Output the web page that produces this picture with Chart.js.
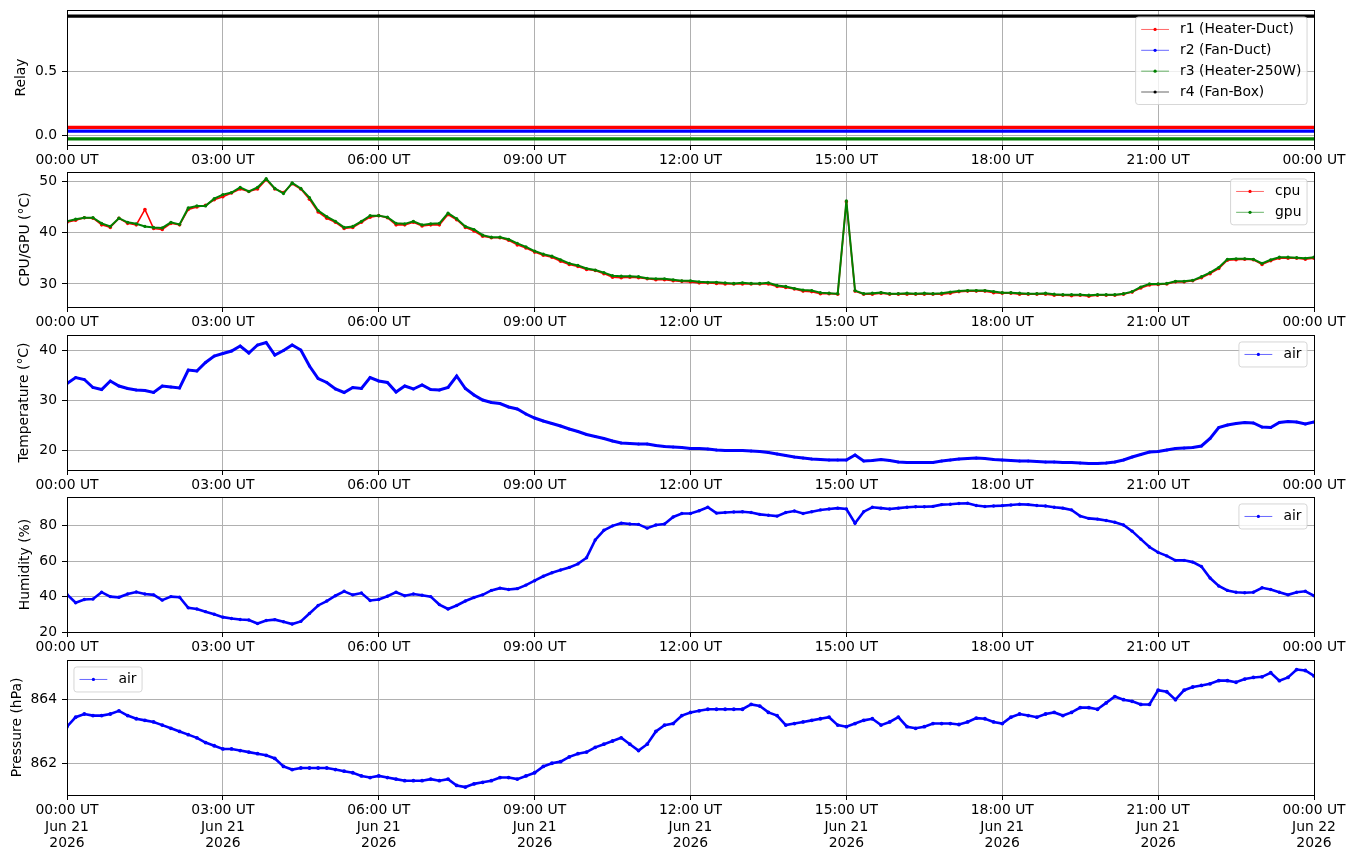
<!DOCTYPE html>
<html><head><meta charset="utf-8">
<script src="https://cdn.jsdelivr.net/npm/chart.js"></script>
<style>
html,body{margin:0;padding:0;background:#fff;width:1355px;height:861px;overflow:hidden;}
canvas{position:absolute;left:0;}
</style></head><body>
<canvas id="c1" width="1355" height="185" style="top:0px"></canvas>
<canvas id="c2" width="1355" height="185" style="top:162px"></canvas>
<canvas id="c3" width="1355" height="185" style="top:325px"></canvas>
<canvas id="c4" width="1355" height="185" style="top:487px"></canvas>
<canvas id="c5" width="1355" height="211" style="top:650px"></canvas>
<script>
// ---- data (10-minute samples, 00:00 .. 24:00 UT) ----
const sampleStepHours = 10 / 60;
const xTickHours = [0, 3, 6, 9, 12, 15, 18, 21, 24];
const xTickLabels = ['00:00 UT','03:00 UT','06:00 UT','09:00 UT','12:00 UT','15:00 UT','18:00 UT','21:00 UT','00:00 UT'];
const xTickDates = ['Jun 21','Jun 21','Jun 21','Jun 21','Jun 21','Jun 21','Jun 21','Jun 21','Jun 22'];
const xTickYears = ['2026','2026','2026','2026','2026','2026','2026','2026','2026'];

const relayHours = [0, 24];
const relayR1 = [0.06, 0.06];
const relayR2 = [0.03, 0.03];
const relayR3 = [-0.03, -0.03];
const relayR4 = [0.93, 0.93];
const relayTicks = [0, 0.5];

const cpu = [42.0,42.4,42.9,42.8,41.5,41.0,42.8,41.8,41.5,44.5,
40.8,40.6,41.8,41.5,44.5,45.0,45.3,46.4,47.0,47.7,
48.5,48.0,48.5,50.3,48.5,47.8,49.5,48.5,46.5,44.0,
42.8,42.0,40.8,41.0,42.0,43.0,43.3,42.9,41.5,41.5,
42.0,41.3,41.5,41.5,43.5,42.5,41.0,40.3,39.3,39.0,
39.0,38.5,37.6,37.0,36.2,35.6,35.2,34.4,33.8,33.4,
32.8,32.6,32.0,31.3,31.2,31.3,31.2,31.0,30.8,30.8,
30.6,30.5,30.4,30.2,30.2,30.1,30.0,30.0,30.0,30.0,
30.0,30.0,29.5,29.3,29.0,28.6,28.5,28.1,28.1,28.0,
46.0,28.6,28.0,28.0,28.2,28.0,28.0,28.0,28.0,28.0,
28.0,28.0,28.2,28.5,28.6,28.6,28.6,28.3,28.2,28.2,
28.0,28.0,28.0,28.0,27.8,27.8,27.7,27.8,27.6,27.8,
27.8,27.8,28.0,28.4,29.2,29.8,29.9,30.0,30.4,30.4,
30.6,31.2,32.0,33.0,34.6,34.7,34.8,34.7,33.8,34.5,
35.0,35.0,35.0,34.8,35.0];
const gpu = [42.2,42.6,42.9,42.9,41.8,41.2,42.8,42.0,41.7,41.2,
41.0,40.9,42.0,41.6,44.8,45.2,45.2,46.6,47.4,47.8,
48.8,48.0,48.8,50.5,48.6,47.6,49.7,48.6,46.8,44.3,
43.1,42.2,41.0,41.2,42.2,43.3,43.3,43.0,41.8,41.7,
42.2,41.5,41.7,41.8,43.8,42.7,41.2,40.6,39.5,39.1,
39.1,38.7,37.9,37.2,36.4,35.8,35.4,34.7,34.0,33.6,
33.0,32.7,32.2,31.6,31.5,31.5,31.4,31.1,31.0,31.0,
30.8,30.6,30.6,30.4,30.3,30.3,30.2,30.1,30.2,30.1,
30.1,30.2,29.7,29.5,29.1,28.8,28.7,28.3,28.2,28.1,
46.2,28.7,28.1,28.2,28.3,28.1,28.1,28.2,28.1,28.2,
28.1,28.2,28.4,28.6,28.7,28.7,28.7,28.5,28.3,28.3,
28.2,28.1,28.1,28.2,28.0,27.9,27.9,27.9,27.8,27.9,
27.9,27.9,28.1,28.5,29.4,30.0,30.0,30.1,30.5,30.5,
30.7,31.4,32.2,33.2,34.8,34.9,34.9,34.8,34.0,34.7,
35.2,35.2,35.1,35.0,35.2];
const cpuTicks = [30, 40, 50];

const airTemp = [33.3,34.5,34.1,32.5,32.1,33.8,32.8,32.3,32.0,31.9,
31.5,32.8,32.6,32.4,36.0,35.8,37.5,38.8,39.3,39.8,
40.8,39.4,41.0,41.5,39.0,39.9,41.0,40.0,36.8,34.3,
33.5,32.2,31.5,32.5,32.3,34.5,33.8,33.5,31.6,32.8,
32.2,33.0,32.1,32.0,32.5,34.8,32.3,31.0,30.0,29.5,
29.3,28.6,28.2,27.2,26.4,25.8,25.3,24.8,24.2,23.7,
23.1,22.7,22.3,21.8,21.4,21.3,21.2,21.2,20.9,20.7,
20.6,20.5,20.3,20.3,20.2,20.0,19.9,19.9,19.9,19.8,
19.7,19.5,19.2,18.9,18.6,18.4,18.2,18.1,18.0,18.0,
18.0,19.0,17.8,17.9,18.1,17.9,17.6,17.5,17.5,17.5,
17.5,17.8,18.0,18.2,18.3,18.4,18.3,18.1,18.0,17.9,
17.8,17.8,17.7,17.6,17.6,17.5,17.5,17.4,17.3,17.3,
17.4,17.6,18.0,18.6,19.1,19.6,19.7,20.0,20.3,20.4,
20.5,20.8,22.3,24.5,25.0,25.3,25.5,25.4,24.6,24.5,
25.5,25.7,25.6,25.2,25.6];
const tempTicks = [20, 30, 40];

const airHum = [41.2,36.5,38.4,38.6,42.5,40.0,39.6,41.5,42.6,41.5,
41.0,38.0,40.0,39.7,33.7,33.0,31.5,30.0,28.4,27.6,
27.1,26.8,24.8,26.5,27.0,25.8,24.5,26.0,30.5,35.0,
37.5,40.5,43.0,41.0,42.0,37.8,38.4,40.2,42.5,40.5,
41.5,40.8,40.0,35.5,33.0,35.0,37.5,39.5,41.0,43.5,
44.8,44.0,44.5,46.5,49.0,51.5,53.5,55.0,56.5,58.5,
62.0,72.0,77.5,80.0,81.5,81.0,80.8,78.7,80.5,81.0,
85.0,87.0,87.0,88.5,90.5,87.2,87.5,87.8,88.0,87.5,
86.5,86.0,85.5,87.5,88.4,87.0,88.0,89.0,89.5,90.0,
89.5,81.5,88.0,90.5,90.0,89.5,90.0,90.5,90.8,90.8,
91.0,92.0,92.2,92.6,92.8,91.5,90.9,91.2,91.4,91.8,
92.2,92.0,91.5,91.2,90.5,90.0,89.0,85.5,84.2,83.8,
83.0,82.0,80.5,77.0,72.5,68.0,65.0,63.0,60.5,60.5,
59.5,57.0,50.5,46.0,43.5,42.5,42.2,42.5,45.0,44.0,
42.5,41.0,42.5,43.0,40.5];
const humTicks = [20, 40, 60, 80];

const airPres = [863.15,863.45,863.55,863.5,863.5,863.55,863.65,863.5,863.4,863.35,
863.3,863.2,863.1,863.0,862.9,862.8,862.65,862.55,862.45,862.45,
862.4,862.35,862.3,862.25,862.15,861.9,861.8,861.85,861.85,861.85,
861.85,861.8,861.75,861.7,861.6,861.55,861.6,861.55,861.5,861.45,
861.45,861.45,861.5,861.45,861.5,861.3,861.25,861.35,861.4,861.45,
861.55,861.55,861.5,861.6,861.7,861.9,862.0,862.05,862.2,862.3,
862.35,862.5,862.6,862.7,862.8,862.6,862.4,862.6,863.0,863.2,
863.25,863.5,863.6,863.65,863.7,863.7,863.7,863.7,863.7,863.85,
863.8,863.6,863.5,863.2,863.25,863.3,863.35,863.4,863.45,863.2,
863.15,863.25,863.35,863.4,863.2,863.3,863.45,863.15,863.1,863.15,
863.25,863.25,863.25,863.22,863.3,863.42,863.4,863.3,863.25,863.45,
863.55,863.5,863.45,863.55,863.6,863.5,863.6,863.75,863.75,863.7,
863.9,864.1,864.0,863.95,863.85,863.85,864.3,864.25,864.0,864.3,
864.4,864.45,864.5,864.6,864.6,864.55,864.65,864.7,864.72,864.85,
864.6,864.7,864.95,864.92,864.75];
const presTicks = [862, 864];

// ---- helpers ----
const FONT = {family: "'DejaVu Sans', sans-serif", size: 13.9, lineHeight: 1.2};
Chart.defaults.font.family = FONT.family;
Chart.defaults.color = '#000';

const toXY = vals => vals.map((v, i) => ({x: i * sampleStepHours, y: v}));
const relayXY = vals => relayHours.map((h, i) => ({x: h, y: vals[i]}));
const alignPx = p => Math.round(p - 0.5) + 0.5;

const framePlugin = {
  id: 'frame',
  afterDatasetsDraw(chart) {
    const {ctx, chartArea: a} = chart;
    ctx.save();
    ctx.strokeStyle = '#000';
    ctx.lineWidth = 1;
    const l = alignPx(a.left), t = alignPx(a.top), r = alignPx(a.right), b = alignPx(a.bottom);
    ctx.strokeRect(l, t, r - l, b - t);
    ctx.restore();
  }
};

const legendPlugin = {
  id: 'mplLegend',
  afterDraw(chart, args, opts) {
    if (!opts || !opts.loc) return;
    const {ctx, chartArea: a} = chart;
    const fs = FONT.size;
    ctx.save();
    ctx.font = fs + "px 'DejaVu Sans'";
    const items = chart.data.datasets.map(d => ({label: d.label, color: d.borderColor}));
    const pad = 0.4 * fs, bap = 0.5 * fs, hl = 2 * fs, htp = 0.8 * fs, ls = 0.5 * fs, rh = fs;
    const tw = Math.max(...items.map(it => ctx.measureText(it.label).width));
    const w = 2 * pad + hl + htp + tw;
    const h = 2 * pad + items.length * rh + (items.length - 1) * ls;
    const x0 = opts.loc === 'upper left' ? a.left + bap : a.right - bap - w;
    const y0 = a.top + bap;
    const rr = 2.8;
    ctx.beginPath();
    ctx.moveTo(x0 + rr, y0);
    ctx.lineTo(x0 + w - rr, y0); ctx.quadraticCurveTo(x0 + w, y0, x0 + w, y0 + rr);
    ctx.lineTo(x0 + w, y0 + h - rr); ctx.quadraticCurveTo(x0 + w, y0 + h, x0 + w - rr, y0 + h);
    ctx.lineTo(x0 + rr, y0 + h); ctx.quadraticCurveTo(x0, y0 + h, x0, y0 + h - rr);
    ctx.lineTo(x0, y0 + rr); ctx.quadraticCurveTo(x0, y0, x0 + rr, y0);
    ctx.closePath();
    ctx.fillStyle = 'rgba(255,255,255,0.8)';
    ctx.fill();
    ctx.strokeStyle = 'rgba(204,204,204,0.8)';
    ctx.lineWidth = 1;
    ctx.stroke();
    items.forEach((it, i) => {
      const cy = y0 + pad + rh / 2 + i * (rh + ls);
      const hx = x0 + pad;
      ctx.strokeStyle = it.color;
      ctx.globalAlpha = 0.75;
      ctx.lineWidth = 0.8;
      ctx.beginPath(); ctx.moveTo(hx, cy); ctx.lineTo(hx + hl, cy); ctx.stroke();
      ctx.globalAlpha = 1;
      ctx.fillStyle = it.color;
      ctx.beginPath(); ctx.arc(hx + hl / 2, cy, 1.6, 0, Math.PI * 2); ctx.fill();
      ctx.fillStyle = '#000';
      ctx.textBaseline = 'middle';
      ctx.textAlign = 'left';
      ctx.fillText(it.label, hx + hl + htp, cy);
    });
    ctx.restore();
  }
};

const gridOpts = {color: '#b0b0b0', lineWidth: 1, drawTicks: true, tickLength: 5, tickColor: '#000', tickWidth: 1};
const borderOpts = {display: true, color: '#000', width: 1};

function panel(id, o) {
  return new Chart(document.getElementById(id), {
    type: 'line',
    data: {datasets: o.datasets},
    options: {
      responsive: false, animation: false, events: [],
      layout: {padding: {left: 0, right: 41, top: o.padTop, bottom: o.padBottom}},
      plugins: {legend: {display: false}, tooltip: {enabled: false}, mplLegend: {loc: o.legendLoc}},
      elements: {line: {tension: 0}},
      scales: {
        x: {
          type: 'linear', min: 0, max: 24,
          afterBuildTicks: s => { s.ticks = xTickHours.map(v => ({value: v})); },
          afterFit: s => { s.height = o.xAxisH; s.paddingLeft = 0; s.paddingRight = 0; },
          ticks: {
            autoSkip: false, maxRotation: 0, minRotation: 0, padding: 2, color: '#000', font: FONT,
            callback: (v, i) => o.multi ? [xTickLabels[i], xTickDates[i], xTickYears[i]] : xTickLabels[i]
          },
          grid: gridOpts, border: borderOpts
        },
        y: {
          type: 'linear', min: o.yMin, max: o.yMax,
          afterBuildTicks: s => { s.ticks = o.yTicks.map(v => ({value: v})); },
          afterFit: s => { s.width = 67; s.paddingTop = 0; s.paddingBottom = 0; },
          ticks: {padding: 5, color: '#000', font: FONT, callback: v => o.yFmt(v)},
          grid: gridOpts, border: borderOpts,
          title: {
            display: true, text: o.yTitle, color: '#000', font: FONT,
            padding: {top: o.titleCenter - FONT.size * FONT.lineHeight / 2, bottom: 0}
          }
        }
      }
    },
    plugins: [framePlugin, legendPlugin]
  });
}

const lineDs = (label, vals, color, extra) => Object.assign({
  label, data: toXY(vals), borderColor: color, backgroundColor: color,
  pointBackgroundColor: color, pointBorderWidth: 0, pointRadius: 1.5, pointHoverRadius: 0,
  borderWidth: 2.2, fill: false
}, extra || {});
const relayDs = (label, vals, color) => ({
  label, data: relayXY(vals), borderColor: color, backgroundColor: color,
  pointRadius: 0, borderWidth: 3.2, fill: false
});

panel('c1', {
  datasets: [
    relayDs('r1 (Heater-Duct)', relayR1, '#ff0000'),
    relayDs('r2 (Fan-Duct)', relayR2, '#0000ff'),
    relayDs('r3 (Heater-250W)', relayR3, '#008000'),
    relayDs('r4 (Fan-Box)', relayR4, '#000000')
  ],
  yMin: -0.078, yMax: 0.978, yTicks: relayTicks, yFmt: v => v.toFixed(1),
  yTitle: 'Relay', titleCenter: 21.5, padTop: 10, padBottom: 10, xAxisH: 30, legendLoc: 'upper right'
});
panel('c2', {
  datasets: [
    lineDs('cpu', cpu, '#ff0000', {order: 2, borderWidth: 1.6, pointRadius: 1.8}),
    lineDs('gpu', gpu, '#008000', {order: 1, borderWidth: 2, pointRadius: 1.6})
  ],
  yMin: 25.5, yMax: 51.8, yTicks: cpuTicks, yFmt: v => String(v),
  yTitle: 'CPU/GPU (°C)', titleCenter: 25, padTop: 10, padBottom: 10, xAxisH: 30, legendLoc: 'upper right'
});
panel('c3', {
  datasets: [lineDs('air', airTemp, '#0000ff', {borderWidth: 3})],
  yMin: 16.0, yMax: 43.0, yTicks: tempTicks, yFmt: v => String(v),
  yTitle: 'Temperature (°C)', titleCenter: 24.5, padTop: 10, padBottom: 10, xAxisH: 30, legendLoc: 'upper right'
});
panel('c4', {
  datasets: [lineDs('air', airHum, '#0000ff', {borderWidth: 2.6, pointRadius: 1.7})],
  yMin: 20.0, yMax: 96.3, yTicks: humTicks, yFmt: v => String(v),
  yTitle: 'Humidity (%)', titleCenter: 25, padTop: 10, padBottom: 10, xAxisH: 30, legendLoc: 'upper right'
});
panel('c5', {
  datasets: [lineDs('air', airPres, '#0000ff', {borderWidth: 2.6, pointRadius: 1.9})],
  yMin: 861.0, yMax: 865.25, yTicks: presTicks, yFmt: v => String(v),
  yTitle: 'Pressure (hPa)', titleCenter: 17, padTop: 10, padBottom: 4, xAxisH: 62, multi: true, legendLoc: 'upper left'
});
</script>
</body></html>
